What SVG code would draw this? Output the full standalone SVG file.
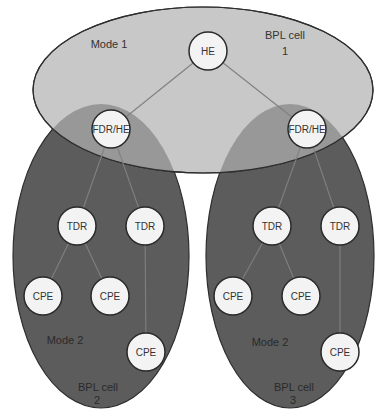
<svg xmlns="http://www.w3.org/2000/svg" width="375" height="410" viewBox="0 0 375 410">
  <style>
    .cell-low { fill: #5c5c5c; stroke: #2e2e2e; stroke-width: 1.2; }
    .cell-top { fill: #c8c8c8; stroke: #2e2e2e; stroke-width: 1.2; }
    .overlap { fill: #989898; stroke: none; }
    .node circle { fill: #f3f3f3; stroke: #2a2a2a; stroke-width: 1.5; }
    .node text { font-family: "Liberation Sans", Arial, sans-serif; font-size: 10px; fill: #333; text-anchor: middle; dominant-baseline: central; }
    .link { stroke: #808080; stroke-width: 1.1; fill: none; }
    .label { font-family: "Liberation Sans", Arial, sans-serif; font-size: 11px; fill: #333; text-anchor: middle; }
    .label-dark { font-family: "Liberation Sans", Arial, sans-serif; font-size: 11px; fill: #2a2a2a; text-anchor: middle; }
  </style>
  <defs>
    <clipPath id="topClip">
      <ellipse cx="203" cy="90" rx="170" ry="83"/>
    </clipPath>
  </defs>

  <rect width="375" height="410" fill="#ffffff"/>

  <!-- cells -->
  <g id="cells">
    <ellipse id="cell2" class="cell-low" cx="101" cy="256" rx="88" ry="152"/>
    <ellipse id="cell3" class="cell-low" cx="290" cy="256" rx="84" ry="152"/>
    <ellipse id="cell1" class="cell-top" cx="203" cy="90" rx="170" ry="83"/>
    <g clip-path="url(#topClip)">
      <ellipse class="overlap" cx="101" cy="256" rx="88" ry="152"/>
      <ellipse class="overlap" cx="290" cy="256" rx="84" ry="152"/>
    </g>
    <ellipse cx="203" cy="90" rx="170" ry="83" fill="none" stroke="#2e2e2e" stroke-width="1.2"/>
  </g>

  <!-- connectors -->
  <g id="connectors">
    <line class="link" x1="208" y1="51" x2="111" y2="129"/>
    <line class="link" x1="208" y1="51" x2="307" y2="129"/>
    <line class="link" x1="111" y1="129" x2="77" y2="226"/>
    <line class="link" x1="111" y1="129" x2="145" y2="226"/>
    <line class="link" x1="77" y1="226" x2="43" y2="296"/>
    <line class="link" x1="77" y1="226" x2="110" y2="296"/>
    <line class="link" x1="145" y1="226" x2="146" y2="352"/>
    <line class="link" x1="307" y1="129" x2="272" y2="226"/>
    <line class="link" x1="307" y1="129" x2="340" y2="226"/>
    <line class="link" x1="272" y1="226" x2="233" y2="296"/>
    <line class="link" x1="272" y1="226" x2="301" y2="296"/>
    <line class="link" x1="340" y1="226" x2="340" y2="352"/>
  </g>

  <!-- cell labels -->
  <text class="label" x="109" y="48">Mode 1</text>
  <text class="label" x="285" y="39">BPL cell</text>
  <text class="label" x="285" y="55">1</text>
  <text class="label-dark" x="65" y="344">Mode 2</text>
  <text class="label-dark" x="98" y="391">BPL cell</text>
  <text class="label-dark" x="97" y="404">2</text>
  <text class="label-dark" x="270" y="346">Mode 2</text>
  <text class="label-dark" x="294" y="391">BPL cell</text>
  <text class="label-dark" x="293" y="404">3</text>

  <!-- nodes -->
  <g id="he" class="node"><circle cx="208" cy="51" r="19"/><text x="208" y="51">HE</text></g>
  <g id="fdr-left" class="node"><circle cx="111" cy="129" r="19"/><text x="111" y="129">FDR/HE</text></g>
  <g id="fdr-right" class="node"><circle cx="307" cy="129" r="19"/><text x="307" y="129">FDR/HE</text></g>
  <g id="tdr-l1" class="node"><circle cx="77" cy="226" r="19"/><text x="77" y="226">TDR</text></g>
  <g id="tdr-l2" class="node"><circle cx="145" cy="226" r="19"/><text x="145" y="226">TDR</text></g>
  <g id="cpe-l1" class="node"><circle cx="43" cy="296" r="19"/><text x="43" y="296">CPE</text></g>
  <g id="cpe-l2" class="node"><circle cx="110" cy="296" r="19"/><text x="110" y="296">CPE</text></g>
  <g id="cpe-l3" class="node"><circle cx="146" cy="352" r="19"/><text x="146" y="352">CPE</text></g>
  <g id="tdr-r1" class="node"><circle cx="272" cy="226" r="19"/><text x="272" y="226">TDR</text></g>
  <g id="tdr-r2" class="node"><circle cx="340" cy="226" r="19"/><text x="340" y="226">TDR</text></g>
  <g id="cpe-r1" class="node"><circle cx="233" cy="296" r="19"/><text x="233" y="296">CPE</text></g>
  <g id="cpe-r2" class="node"><circle cx="301" cy="296" r="19"/><text x="301" y="296">CPE</text></g>
  <g id="cpe-r3" class="node"><circle cx="340" cy="352" r="19"/><text x="340" y="352">CPE</text></g>
</svg>
